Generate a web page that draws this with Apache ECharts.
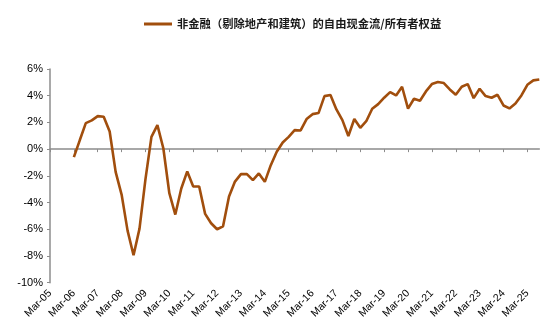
<!DOCTYPE html>
<html>
<head>
<meta charset="utf-8">
<script src="https://cdn.jsdelivr.net/npm/echarts@6/dist/echarts.min.js"></script>
<style>
  html, body { margin: 0; padding: 0; background: #fff; }
  #chart { width: 550px; height: 333px; }
</style>
</head>
<body>
<div id="chart"></div>
<script>
// Quarter-end labels, Mar-05 .. Sep-25
const years = ['05','06','07','08','09','10','11','12','13','14','15',
               '16','17','18','19','20','21','22','23','24','25'];
const quarterMonths = ['Mar', 'Jun', 'Sep', 'Dec'];
const lastYearQuarters = 3; // data runs to Sep-25

const categories = [];
years.forEach(function (y, i) {
  const n = i === years.length - 1 ? lastYearQuarters : 4;
  for (let q = 0; q < n; q++) categories.push(quarterMonths[q] + '-' + y);
});

// Free cash flow / owners' equity, non-financials ex. property & construction (%)
const fcfToEquity = [
  null, null, null, null,            // 2005
  -0.6, 0.68, 1.95, 2.15,            // 2006
  2.47, 2.43, 1.32, -1.7,            // 2007
  -3.4, -6.1, -7.95, -5.95,          // 2008
  -2.25, 0.92, 1.8, 0.05,            // 2009
  -3.3, -4.9, -2.95, -1.67,          // 2010
  -2.8, -2.8, -4.85, -5.55,          // 2011
  -6.0, -5.78, -3.55, -2.43,         // 2012
  -1.87, -1.87, -2.32, -1.82,        // 2013
  -2.45, -1.2, -0.2, 0.5,            // 2014
  0.92, 1.42, 1.4, 2.25,             // 2015
  2.62, 2.7, 3.97, 4.05,             // 2016
  2.97, 2.17, 0.98, 2.26,            // 2017
  1.6, 2.09, 3.02, 3.37,             // 2018
  3.85, 4.27, 4.02, 4.67,            // 2019
  3.03, 3.77, 3.62, 4.32,            // 2020
  4.87, 5.02, 4.95, 4.47,            // 2021
  4.07, 4.67, 4.87, 3.82,            // 2022
  4.52, 3.97, 3.85, 4.07,            // 2023
  3.27, 3.05, 3.42, 4.02,            // 2024
  4.82, 5.15, 5.22                   // 2025
];

const yTicks = { min: -10, max: 6, step: 2 };
const seriesName = '非金融（剔除地产和建筑）的自由现金流/所有者权益';

const axisGrey = '#8c8c8c';
const lineColor = '#A14E0D';
const isMarch = function (idx) { return idx % 4 === 0; };

const chart = echarts.init(document.getElementById('chart'), null, { renderer: 'canvas' });

chart.setOption({
  animation: false,
  backgroundColor: '#ffffff',
  textStyle: { fontFamily: 'Liberation Sans, Arial, sans-serif' },
  legend: {
    top: 12,
    left: 139,
    icon: 'rect',
    itemWidth: 28,
    itemHeight: 3,
    textStyle: {
      fontFamily: '"Noto Sans CJK SC", sans-serif',
      fontSize: 11.3,
      fontWeight: 'bold',
      color: '#1a1a1a',
      lineHeight: 14
    },
    data: [seriesName]
  },
  grid: { left: 50, right: 10.7, top: 69, bottom: 50.3, containLabel: false },
  xAxis: [
    {
      // zero line with ticks at each March
      type: 'category',
      data: categories,
      boundaryGap: false,
      axisLine: { onZero: true, lineStyle: { color: axisGrey, width: 1.5 } },
      axisTick: { show: true, interval: function (idx) { return isMarch(idx); }, length: 3, lineStyle: { color: axisGrey, width: 1 } },
      axisLabel: { show: false },
      splitLine: { show: false }
    },
    {
      // date labels along the bottom
      type: 'category',
      data: categories,
      boundaryGap: false,
      position: 'bottom',
      axisLine: { show: false, onZero: false },
      axisTick: { show: false },
      axisLabel: {
        interval: function (idx) { return isMarch(idx); },
        rotate: 45,
        margin: 9,
        fontSize: 10.5,
        color: '#000',
        fontFamily: 'Liberation Sans, Arial, sans-serif'
      },
      splitLine: { show: false }
    }
  ],
  yAxis: {
    type: 'value',
    min: yTicks.min,
    max: yTicks.max,
    interval: yTicks.step,
    axisLine: { show: true, lineStyle: { color: axisGrey, width: 1.5 } },
    axisTick: { show: true, length: 3, lineStyle: { color: axisGrey } },
    axisLabel: {
      formatter: '{value}%',
      fontSize: 11,
      color: '#000',
      margin: 7,
      fontFamily: 'Liberation Sans, Arial, sans-serif'
    },
    splitLine: { show: false }
  },
  series: [
    {
      name: seriesName,
      type: 'line',
      xAxisIndex: 0,
      data: fcfToEquity,
      symbol: 'none',
      smooth: false,
      connectNulls: false,
      itemStyle: { color: lineColor },
      lineStyle: { color: lineColor, width: 2.6 }
    }
  ]
});
</script>
</body>
</html>
